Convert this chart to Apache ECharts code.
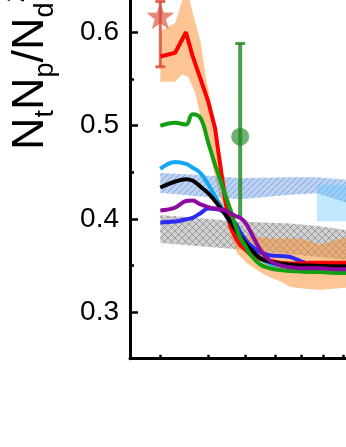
<!DOCTYPE html>
<html>
<head>
<meta charset="utf-8">
<script src="https://cdn.jsdelivr.net/npm/echarts@6/dist/echarts.min.js"></script>
<style>
html, body { margin: 0; padding: 0; background: #fff; }
#main { width: 346px; height: 447px; }
</style>
</head>
<body>
<div id="main"></div>
<script>
// collision energy (GeV) grid for the model curves
var energy = [3.0, 3.28, 3.5, 3.64, 3.82, 4.0, 4.17, 4.3, 4.43, 4.57, 4.71, 4.85, 5.0, 5.15, 5.47, 5.8, 6.17, 6.55, 6.95, 7.38, 7.84, 8.58, 9.16, 10.0];
var redLine    = [0.574, 0.578, 0.600, 0.575, 0.550, 0.526, 0.497, 0.458, 0.420, 0.392, 0.380, 0.372, 0.367, 0.362, 0.357, 0.355, 0.353, 0.352, 0.352, 0.353, 0.353, 0.353, 0.353, 0.353];
var greenLine  = [0.4996, 0.503, 0.501, 0.512, 0.508, 0.482, 0.458, 0.442, 0.426, 0.410, 0.393, 0.380, 0.371, 0.362, 0.351, 0.347, 0.345, 0.344, 0.3435, 0.343, 0.343, 0.342, 0.342, 0.342];
var cyanLine   = [0.4535, 0.461, 0.459, 0.455, 0.449, 0.437, 0.424, 0.415, 0.405, 0.395, 0.386, 0.378, 0.371, 0.365, 0.357, 0.352, 0.350, 0.349, 0.348, 0.348, 0.348, 0.348, 0.348, 0.348];
var blackLine  = [0.4335, 0.440, 0.4425, 0.441, 0.4345, 0.4275, 0.419, 0.412, 0.405, 0.397, 0.389, 0.381, 0.374, 0.368, 0.358, 0.354, 0.352, 0.351, 0.350, 0.350, 0.3495, 0.349, 0.349, 0.349];
var purpleLine = [0.409, 0.412, 0.419, 0.4195, 0.4155, 0.4125, 0.411, 0.410, 0.409, 0.406, 0.403, 0.401, 0.396, 0.387, 0.367, 0.355, 0.350, 0.348, 0.347, 0.347, 0.347, 0.346, 0.346, 0.346];
var blueLine   = [0.396, 0.397, 0.3995, 0.401, 0.406, 0.411, 0.4105, 0.4095, 0.406, 0.401, 0.395, 0.386, 0.378, 0.372, 0.364, 0.361, 0.360, 0.359, 0.355, 0.351, 0.349, 0.348, 0.348, 0.348];

// orange band
var orangeUpE = [3.0, 3.28, 3.51, 3.64, 3.82, 3.93, 4.05, 4.17, 4.3, 4.43, 4.57, 4.71, 4.85, 5.03, 5.47, 6.17, 6.95, 7.38, 7.84, 8.58, 9.16, 10.0];
var orangeUp  = [0.601, 0.610, 0.648, 0.622, 0.590, 0.556, 0.527, 0.500, 0.470, 0.440, 0.415, 0.395, 0.386, 0.381, 0.380, 0.379, 0.379, 0.376, 0.372, 0.377, 0.380, 0.380];
var orangeLoE = [3.0, 3.28, 3.42, 3.55, 3.70, 3.82, 4.0, 4.17, 4.3, 4.43, 4.57, 4.76, 5.06, 5.47, 5.81, 6.17, 6.55, 7.17, 7.84, 9.16, 10.0];
var orangeLo  = [0.547, 0.547, 0.555, 0.552, 0.535, 0.510, 0.478, 0.445, 0.423, 0.402, 0.383, 0.363, 0.352, 0.343, 0.337, 0.333, 0.327, 0.325, 0.324, 0.326, 0.326];

// grey hatched band
var greyE  = [3.0, 4.85, 6.55, 7.84, 9.16, 10.0];
var greyUp = [0.404, 0.397, 0.395, 0.392, 0.388, 0.387];
var greyLo = [0.374, 0.367, 0.362, 0.359, 0.356, 0.355];

// blue hatched band
var blueE  = [3.0, 3.82, 4.85, 6.55, 7.7, 9.16, 10.0];
var blueUp = [0.449, 0.447, 0.4435, 0.4445, 0.4445, 0.442, 0.441];
var blueLo = [0.428, 0.424, 0.421, 0.4257, 0.4274, 0.4174, 0.413];

// light blue box from 7.7 GeV
var boxE  = [7.7, 10.0];
var boxUp = [0.4364, 0.4364];
var boxLo = [0.397, 0.397];

// data points: [energy, value, low, high]
var starPoint  = [3.0, 0.6175, 0.563, 0.633];
var greenPoint = [4.85, 0.488, 0.400, 0.588];

var xTicks = [3, 4, 5, 6, 7, 8, 9];
var yMajor = [0.3, 0.4, 0.5, 0.6];
var yMinor = [0.35, 0.45, 0.55];

function lg(e) { return Math.log10(e); }

function hatch(bg, line, step, cross) {
    var c = document.createElement('canvas');
    c.width = step; c.height = step;
    var g = c.getContext('2d');
    g.fillStyle = bg;
    g.fillRect(0, 0, step, step);
    g.strokeStyle = line;
    g.lineWidth = 0.7;
    g.beginPath();
    g.moveTo(-1, step + 1); g.lineTo(step + 1, -1);
    if (cross) { g.moveTo(-1, -1); g.lineTo(step + 1, step + 1); }
    g.stroke();
    return { image: c, repeat: 'repeat' };
}

function band(upE, up, loE, lo, fill, z) {
    return {
        type: 'custom', z: z, silent: true,
        data: [0],
        renderItem: function (params, api) {
            var pts = [];
            for (var i = 0; i < upE.length; i++) pts.push(api.coord([lg(upE[i]), up[i]]));
            for (var j = loE.length - 1; j >= 0; j--) pts.push(api.coord([lg(loE[j]), lo[j]]));
            return { type: 'polygon', shape: { points: pts }, style: { fill: fill } };
        }
    };
}

function errBar(p, color, lw, capLow) {
    return {
        type: 'custom', z: 5, silent: true,
        data: [[lg(p[0]), p[2], p[3]]],
        renderItem: function (params, api) {
            var lo = api.coord([api.value(0), api.value(1)]);
            var hi = api.coord([api.value(0), api.value(2)]);
            var kids = [
                { type: 'line', shape: { x1: lo[0], y1: lo[1], x2: hi[0], y2: hi[1] }, style: { stroke: color, lineWidth: lw } },
                { type: 'line', shape: { x1: hi[0] - 5, y1: hi[1], x2: hi[0] + 5, y2: hi[1] }, style: { stroke: color, lineWidth: 3 } }
            ];
            if (capLow) kids.push({ type: 'line', shape: { x1: lo[0] - 5, y1: lo[1], x2: lo[0] + 5, y2: lo[1] }, style: { stroke: color, lineWidth: 3 } });
            return { type: 'group', children: kids };
        }
    };
}

function starPath() {
    var p = [];
    for (var i = 0; i < 10; i++) {
        var r = i % 2 ? 0.4 : 1;
        var a = Math.PI / 5 * i - Math.PI / 2;
        p.push((i ? 'L' : 'M') + (r * Math.cos(a)).toFixed(3) + ' ' + (r * Math.sin(a)).toFixed(3));
    }
    return 'path://' + p.join(' ') + 'Z';
}

function curve(vals, color, z, smooth) {
    return {
        type: 'line', z: z, silent: true,
        data: energy.map(function (e, i) { return [lg(e), vals[i]]; }),
        showSymbol: false, smooth: smooth,
        lineStyle: { color: color, width: 4 }
    };
}

var chart = echarts.init(document.getElementById('main'));
var font = 'Liberation Sans, Arial, sans-serif';
var xMax = lg(3) + 186 / 383.5;     // axis runs past the right edge of the picture
var yMax = 0.6 + 32.3 / 933.3;      // and past its top

chart.setOption({
    animation: false,
    grid: { left: 130, top: 0, right: 0, bottom: 88.3 },
    xAxis: {
        type: 'value', min: lg(2.5), max: xMax,
        axisLine: { onZero: false, lineStyle: { color: '#000', width: 3 } },
        axisTick: { inside: true, length: 4, customValues: xTicks.map(lg), lineStyle: { color: '#000', width: 2.5 } },
        axisLabel: { show: false },
        splitLine: { show: false }
    },
    yAxis: [{
        type: 'value', min: 0.25, max: yMax,
        axisLine: { show: true, lineStyle: { color: '#000', width: 3 } },
        axisTick: { inside: true, length: 4, customValues: yMinor, lineStyle: { color: '#000', width: 2.5 } },
        axisLabel: { show: false },
        splitLine: { show: false }
    }, {
        type: 'value', min: 0.25, max: yMax, position: 'left',
        axisLine: { show: false },
        axisTick: { show: true, inside: true, length: 8, customValues: yMajor, lineStyle: { color: '#000', width: 2.5 } },
        axisLabel: { customValues: yMajor, margin: 11, color: '#000', fontSize: 28, fontFamily: font,
            formatter: function (v) { return v.toFixed(1); } },
        splitLine: { show: false }
    }],
    graphic: [{
        type: 'text', x: 31, y: 150, rotation: Math.PI / 2, silent: true,
        style: {
            text: '{n|N}{s|t}{n|N}{s|p}{n|/N}{s|d}{u|2}',
            align: 'left', verticalAlign: 'middle',
            rich: {
                n: { fontSize: 45, lineHeight: 56, fontFamily: font, fill: '#000', verticalAlign: 'middle' },
                s: { fontSize: 27, lineHeight: 23, fontFamily: font, fill: '#000', verticalAlign: 'bottom' },
                u: { fontSize: 27, lineHeight: 35, fontFamily: font, fill: '#000', verticalAlign: 'top' }
            }
        }
    }],
    series: [
        band(greyE, greyUp, greyE, greyLo, hatch('rgba(150,150,150,0.45)', 'rgba(70,70,70,0.55)', 7, true), 1),
        band(orangeUpE, orangeUp, orangeLoE, orangeLo, 'rgba(250,140,40,0.5)', 2),
        band(blueE, blueUp, blueE, blueLo, hatch('rgba(90,150,230,0.42)', 'rgba(60,90,150,0.55)', 6, false), 3),
        band(boxE, boxUp, boxE, boxLo, 'rgba(100,200,250,0.4)', 4),
        errBar(starPoint, 'rgba(215,70,50,0.8)', 3, true),
        errBar(greenPoint, 'rgba(30,135,30,0.8)', 4, false),
        {
            type: 'scatter', z: 6, silent: true,
            data: [[lg(starPoint[0]), starPoint[1]]],
            symbol: starPath(), symbolSize: 28, symbolKeepAspect: true,
            itemStyle: { color: 'rgba(215,70,50,0.8)' }
        },
        {
            type: 'scatter', z: 6, silent: true,
            data: [[lg(greenPoint[0]), greenPoint[1]]],
            symbol: 'circle', symbolSize: 18,
            itemStyle: { color: 'rgba(30,135,30,0.8)' }
        },
        curve(cyanLine, '#13a8f5', 10, 0.4),
        curve(blueLine, '#2b2bf5', 11, 0.4),
        curve(redLine, '#ff0000', 12, false),
        curve(blackLine, '#000000', 13, 0.4),
        curve(greenLine, '#12a012', 14, 0.4),
        curve(purpleLine, '#8c0aa0', 15, 0.4)
    ]
});
</script>
</body>
</html>
